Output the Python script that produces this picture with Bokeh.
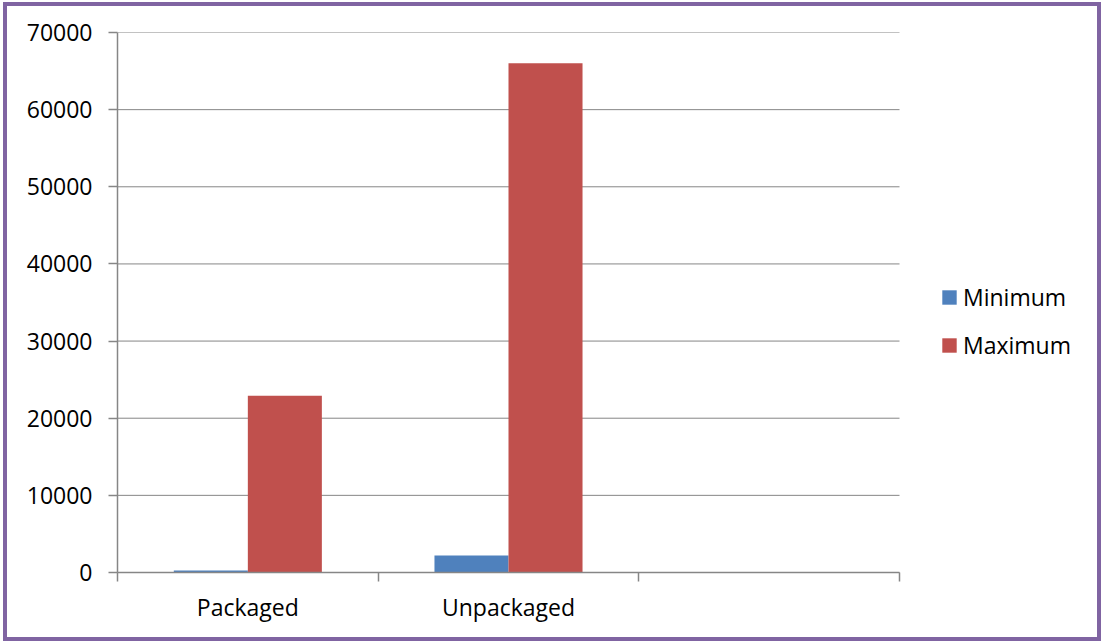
from bokeh.plotting import figure
from bokeh.layouts import column
from bokeh.models import (FixedTicker, Legend, LegendItem,
                          ColumnDataSource, Range1d)
from bokeh.transform import dodge
from bokeh.embed import file_html
from bokeh.resources import INLINE

categories = ["Packaged", "Unpackaged", ""]
minimum = [250, 2200]
maximum = [22900, 66000]
y_ticks = [0, 10000, 20000, 30000, 40000, 50000, 60000, 70000]

FONT = "Open Sans"
GRAY = "#868686"
BLUE = "#4F81BD"
RED = "#C0504D"
PURPLE = "#8064A2"

n = len(categories)
src = ColumnDataSource(dict(
    x=[i + 0.5 for i in range(len(minimum))],
    mn=minimum,
    mx=maximum,
))

# plot area spans the category slots plus room on the right for the legend
PLOT_W, FRAME_W = 782, 980
p = figure(width=1090, height=631, output_backend="svg", toolbar_location=None,
           x_range=Range1d(0, n * FRAME_W / PLOT_W), y_range=Range1d(0, 70000),
           min_border_left=110, min_border_right=0, min_border_top=26,
           min_border_bottom=65)
p.outline_line_color = None
p.background_fill_color = "white"
p.border_fill_color = "white"

# horizontal gridlines over the category slots only
p.segment(x0=[0] * len(y_ticks), x1=[n] * len(y_ticks), y0=y_ticks, y1=y_ticks,
          line_color=GRAY, line_width=1)

bw = 0.284
r_min = p.vbar(x=dodge("x", -bw / 2), top="mn", width=bw, source=src,
               fill_color=BLUE, line_color=None)
r_max = p.vbar(x=dodge("x", bw / 2), top="mx", width=bw, source=src,
               fill_color=RED, line_color=None)

# x axis: boundary ticks as minor ticks, labels at centers
xa = p.xaxis[0]
xa.bounds = (0, n)
xa.ticker = FixedTicker(ticks=[i + 0.5 for i in range(n)],
                        minor_ticks=list(range(n + 1)))
xa.major_label_overrides = {i + 0.5: c for i, c in enumerate(categories)}
xa.major_tick_out = 0
xa.major_tick_in = 0
xa.minor_tick_out = 9
xa.minor_tick_in = 0
xa.minor_tick_line_color = GRAY
xa.minor_tick_line_width = 1.5
xa.axis_line_color = GRAY
xa.axis_line_width = 1.5
xa.major_label_text_font = FONT
xa.major_label_text_font_size = "23px"
xa.major_label_text_color = "black"
xa.major_label_standoff = 9

ya = p.yaxis[0]
ya.ticker = FixedTicker(ticks=y_ticks)
ya.major_tick_out = 9
ya.major_tick_in = 0
ya.minor_tick_line_color = None
ya.major_tick_line_color = GRAY
ya.major_tick_line_width = 1.5
ya.axis_line_color = GRAY
ya.axis_line_width = 1.5
ya.major_label_text_font = FONT
ya.major_label_text_font_size = "23px"
ya.major_label_text_color = "black"
ya.major_label_standoff = 16
ya.formatter.use_scientific = False

p.xgrid.grid_line_color = None
p.ygrid.grid_line_color = None

legend = Legend(items=[LegendItem(label="Minimum", renderers=[r_min]),
                       LegendItem(label="Maximum", renderers=[r_max])],
                location=(823, 211), orientation="vertical",
                border_line_color=None, background_fill_alpha=0,
                glyph_width=18, glyph_height=18, label_standoff=5,
                label_text_font=FONT, label_text_font_size="23px",
                label_text_color="black", spacing=16, padding=0, margin=0)
p.add_layout(legend)

page = column(p, styles={"border": f"4px solid {PURPLE}",
                         "margin-left": "3px", "margin-top": "2px"})

open("out.html", "w").write(file_html(page, INLINE))
